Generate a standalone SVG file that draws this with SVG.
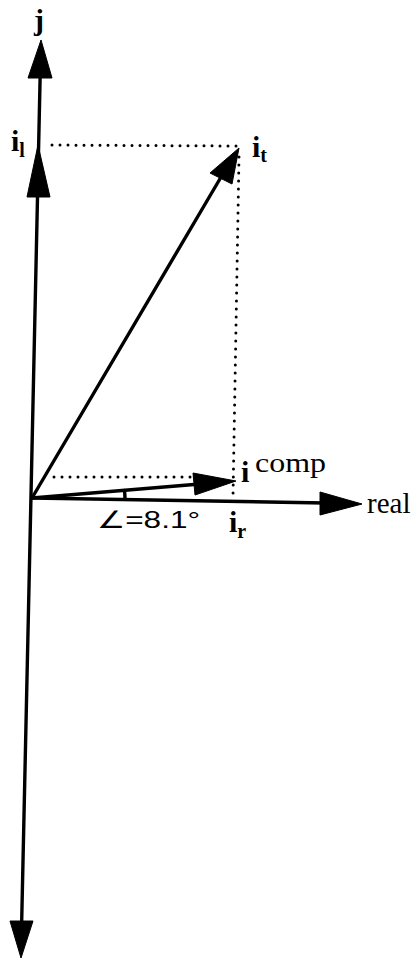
<svg xmlns="http://www.w3.org/2000/svg" width="415" height="960" viewBox="0 0 415 960">
<style>
.ax{stroke:#000;stroke-width:3.4;fill:none;stroke-linecap:round}
.dot{stroke:#000;stroke-width:3;fill:none;stroke-dasharray:0 8;stroke-linecap:round}
.head{fill:#000;stroke:#000;stroke-width:1;stroke-linejoin:round}
.lbl{font-family:"Liberation Serif",serif;fill:#000}
.b{font-weight:bold}
</style>
<rect width="415" height="960" fill="#fff"/>
<g id="connectors">
<line class="ax" x1="40.5" y1="60" x2="21.5" y2="930"/>
<line class="ax" x1="32" y1="498" x2="224" y2="172"/>
<line class="ax" x1="32" y1="498" x2="200" y2="484"/>
<line class="ax" x1="32" y1="498" x2="325" y2="503"/>
<path class="ax" d="M124.5,490.5 A93,93 0 0 1 125,499" stroke-width="2"/>
<line class="dot" x1="52" y1="145" x2="236" y2="146"/>
<line class="dot" x1="239" y1="157" x2="233" y2="496"/>
<line class="dot" x1="54" y1="477" x2="196" y2="477"/>
<polygon class="head" points="41,40 28,78 52,78"/>
<polygon class="head" points="38,145 27,197 50,197"/>
<polygon class="head" points="21,958 10,921 33,921"/>
<polygon class="head" points="239,148 210,173 232,184"/>
<polygon class="head" points="236,481 195,495 193,473"/>
<polygon class="head" points="362,504 320,492 320,515"/>
</g>
<g id="label-j"><text class="lbl b" x="34" y="30" font-size="30">j</text></g>
<g id="label-il"><text class="lbl b" x="11" y="151" font-size="30">i<tspan font-size="20" dy="6">l</tspan></text></g>
<g id="label-it"><text class="lbl b" x="252" y="157" font-size="30">i<tspan font-size="20" dy="5">t</tspan></text></g>
<g id="label-icomp"><text class="lbl b" x="241" y="482" font-size="30">i</text><text class="lbl" x="255" y="472" font-size="28" textLength="71" lengthAdjust="spacingAndGlyphs">comp</text></g>
<g id="label-real"><text class="lbl" x="367" y="513" font-size="29">real</text></g>
<g id="label-ir"><text class="lbl b" x="229" y="532" font-size="30">i<tspan font-size="20" dy="6">r</tspan></text></g>
<g id="label-angle"><text x="97" y="528" font-family="Liberation Sans, DejaVu Sans, sans-serif" font-size="24" textLength="103" lengthAdjust="spacingAndGlyphs">∠=8.1°</text></g>
</svg>
